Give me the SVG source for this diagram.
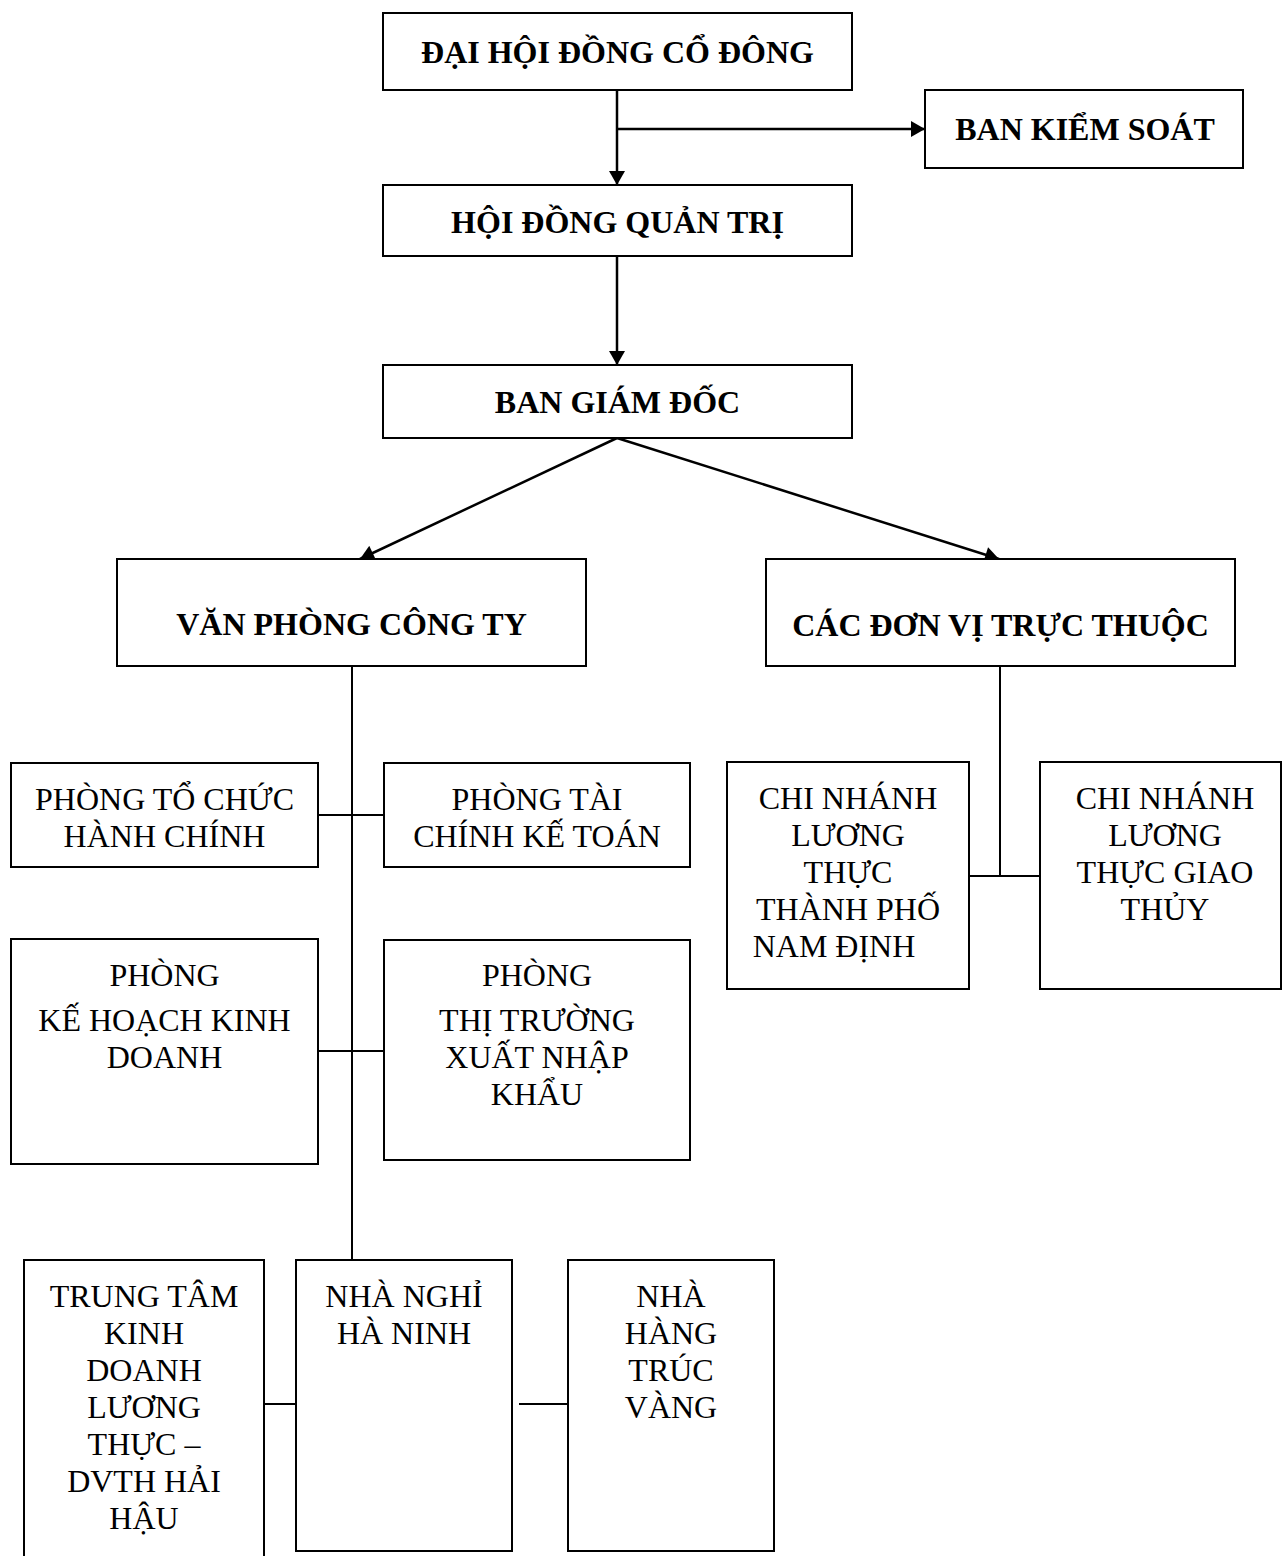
<svg xmlns="http://www.w3.org/2000/svg" width="1283" height="1556" viewBox="0 0 1283 1556">
<style>
.box{fill:#fff;stroke:#000;stroke-width:2}
.b{font-family:"Liberation Serif","Times New Roman",serif;font-size:32px;font-weight:bold;text-anchor:middle;fill:#000}
.r{font-family:"Liberation Serif","Times New Roman",serif;font-size:32px;text-anchor:middle;fill:#000}
.ln{fill:none;stroke:#000;stroke-width:2}
.ar{fill:none;stroke:#000;stroke-width:2.5}
</style>
<defs>
<marker id="arr" markerUnits="userSpaceOnUse" markerWidth="16" markerHeight="16" viewBox="0 0 14 16" refX="14" refY="8" orient="auto">
<path d="M0,0 L14,8 L0,16 Z" fill="#000"/>
</marker>
</defs>
<rect width="1283" height="1556" fill="#fff"/>
<g id="connectors">
<line class="ar" x1="617" y1="90" x2="617" y2="185" marker-end="url(#arr)"/>
<line class="ar" x1="617" y1="129" x2="925" y2="129" marker-end="url(#arr)"/>
<line class="ar" x1="617" y1="256" x2="617" y2="365" marker-end="url(#arr)"/>
<line class="ar" x1="617" y1="438" x2="360" y2="559" marker-end="url(#arr)"/>
<line class="ar" x1="617" y1="438" x2="999" y2="559" marker-end="url(#arr)"/>
<line class="ln" x1="352" y1="666" x2="352" y2="1260"/>
<line class="ln" x1="318" y1="815" x2="384" y2="815"/>
<line class="ln" x1="318" y1="1051" x2="384" y2="1051"/>
<line class="ln" x1="1000" y1="666" x2="1000" y2="876"/>
<line class="ln" x1="969" y1="876" x2="1040" y2="876"/>
<line class="ln" x1="264" y1="1404" x2="296" y2="1404"/>
<line class="ln" x1="519" y1="1404" x2="568" y2="1404"/>
</g>
<g id="dai-hoi-dong-co-dong">
<rect class="box" x="383" y="13" width="469" height="77"/>
<text class="b" x="617.5" y="63">ĐẠI HỘI ĐỒNG CỔ ĐÔNG</text>
</g>
<g id="ban-kiem-soat">
<rect class="box" x="925" y="90" width="318" height="78"/>
<text class="b" x="1085" y="140">BAN KIỂM SOÁT</text>
</g>
<g id="hoi-dong-quan-tri">
<rect class="box" x="383" y="185" width="469" height="71"/>
<text class="b" x="617.5" y="233">HỘI ĐỒNG QUẢN TRỊ</text>
</g>
<g id="ban-giam-doc">
<rect class="box" x="383" y="365" width="469" height="73"/>
<text class="b" x="617.5" y="413">BAN GIÁM ĐỐC</text>
</g>
<g id="van-phong-cong-ty">
<rect class="box" x="117" y="559" width="469" height="107"/>
<text class="b" x="351.5" y="635">VĂN PHÒNG CÔNG TY</text>
</g>
<g id="cac-don-vi-truc-thuoc">
<rect class="box" x="766" y="559" width="469" height="107"/>
<text class="b" x="1000.5" y="636">CÁC ĐƠN VỊ TRỰC THUỘC</text>
</g>
<g id="phong-to-chuc-hanh-chinh">
<rect class="box" x="11" y="763" width="307" height="104"/>
<text class="r" x="164.5" y="810">PHÒNG TỔ CHỨC</text>
<text class="r" x="164.5" y="847">HÀNH CHÍNH</text>
</g>
<g id="phong-tai-chinh-ke-toan">
<rect class="box" x="384" y="763" width="306" height="104"/>
<text class="r" x="537" y="810">PHÒNG TÀI</text>
<text class="r" x="537" y="847">CHÍNH KẾ TOÁN</text>
</g>
<g id="phong-ke-hoach-kinh-doanh">
<rect class="box" x="11" y="939" width="307" height="225"/>
<text class="r" x="164.5" y="986">PHÒNG</text>
<text class="r" x="164.5" y="1031">KẾ HOẠCH KINH</text>
<text class="r" x="164.5" y="1068">DOANH</text>
</g>
<g id="phong-thi-truong-xuat-nhap-khau">
<rect class="box" x="384" y="940" width="306" height="220"/>
<text class="r" x="537" y="986">PHÒNG</text>
<text class="r" x="537" y="1031">THỊ TRƯỜNG</text>
<text class="r" x="537" y="1068">XUẤT NHẬP</text>
<text class="r" x="537" y="1105">KHẨU</text>
</g>
<g id="chi-nhanh-nam-dinh">
<rect class="box" x="727" y="762" width="242" height="227"/>
<text class="r" x="848" y="809">CHI NHÁNH</text>
<text class="r" x="848" y="846">LƯƠNG</text>
<text class="r" x="848" y="883">THỰC</text>
<text class="r" x="848" y="920">THÀNH PHỐ</text>
<text class="r" x="834" y="957">NAM ĐỊNH</text>
</g>
<g id="chi-nhanh-giao-thuy">
<rect class="box" x="1040" y="762" width="241" height="227"/>
<text class="r" x="1165" y="809">CHI NHÁNH</text>
<text class="r" x="1165" y="846">LƯƠNG</text>
<text class="r" x="1165" y="883">THỰC GIAO</text>
<text class="r" x="1165" y="920">THỦY</text>
</g>
<g id="trung-tam-hai-hau">
<rect class="box" x="24" y="1260" width="240" height="320"/>
<text class="r" x="144" y="1307">TRUNG TÂM</text>
<text class="r" x="144" y="1344">KINH</text>
<text class="r" x="144" y="1381">DOANH</text>
<text class="r" x="144" y="1418">LƯƠNG</text>
<text class="r" x="144" y="1455">THỰC –</text>
<text class="r" x="144" y="1492">DVTH HẢI</text>
<text class="r" x="144" y="1529">HẬU</text>
</g>
<g id="nha-nghi-ha-ninh">
<rect class="box" x="296" y="1260" width="216" height="291"/>
<text class="r" x="404" y="1307">NHÀ NGHỈ</text>
<text class="r" x="404" y="1344">HÀ NINH</text>
</g>
<g id="nha-hang-truc-vang">
<rect class="box" x="568" y="1260" width="206" height="291"/>
<text class="r" x="671" y="1307">NHÀ</text>
<text class="r" x="671" y="1344">HÀNG</text>
<text class="r" x="671" y="1381">TRÚC</text>
<text class="r" x="671" y="1418">VÀNG</text>
</g>
</svg>
